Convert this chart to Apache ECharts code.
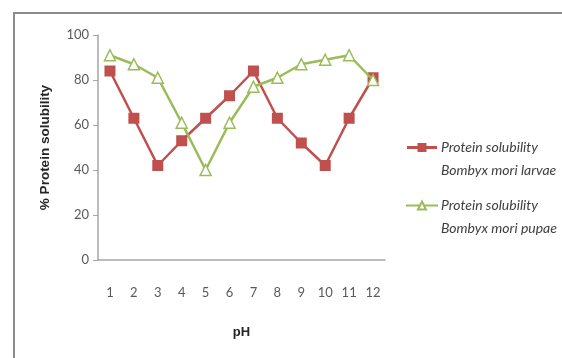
<!DOCTYPE html>
<html><head><meta charset="utf-8">
<script src="https://cdn.jsdelivr.net/npm/echarts@6/dist/echarts.min.js"></script>
<style>html,body{margin:0;padding:0;background:#fff}#c{width:562px;height:358px}</style>
</head><body><div id="c"></div>
<script>
var categories = ['1','2','3','4','5','6','7','8','9','10','11','12'];
var larvae = [84, 63, 42, 53, 63, 73, 84, 63, 52, 42, 63, 81];
var pupae = [91, 87, 81, 61, 40, 61, 77, 81, 87, 89, 91, 80];
var seriesNames = ['Protein solubility\nBombyx mori larvae', 'Protein solubility\nBombyx mori pupae'];
var yTicks = [0, 20, 40, 60, 80, 100];

var chart = echarts.init(document.getElementById('c'));
chart.setOption({
  animation: false,
  graphic: [
    {type: 'polyline', shape: {points: [[14, 358], [14, 13], [562, 13]]}, style: {stroke: '#8c8c8c', lineWidth: 2, fill: null}, z: 0}
  ],
  grid: {left: 98, top: 35, width: 287, height: 225},
  legend: {
    orient: 'vertical', left: 400, top: 108, itemGap: -11, itemWidth: 32, itemHeight: 10,
    formatter: function (name) { return '\n' + name; },
    textStyle: {fontFamily: 'Lato', fontStyle: 'italic', fontSize: 14, color: '#404040', lineHeight: 23, padding: [0,0,0,-2]},
    data: [
      {name: seriesNames[0], icon: 'path://M0,3.6 L10.5,3.6 L10.5,0.5 L19.5,0.5 L19.5,9.5 L10.5,9.5 L10.5,6.4 L0,6.4 Z M19.5,3.6 L30,3.6 L30,6.4 L19.5,6.4 Z M0,0 L0.01,0 Z M0,10 L0.01,10 Z'},
      {name: seriesNames[1]}
    ]
  },
  xAxis: {
    type: 'category', data: categories, boundaryGap: true,
    axisLine: {lineStyle: {color: '#a6a6a6', width: 1.5}},
    axisTick: {show: false},
    axisLabel: {margin: 26, color: '#595959', fontSize: 13, fontFamily: 'Lato'},
    name: 'pH', nameLocation: 'middle', nameGap: 66,
    nameTextStyle: {fontWeight: 'bold', fontSize: 13, color: '#262626', fontFamily: 'Liberation Sans'}
  },
  yAxis: {
    type: 'value', min: 0, max: 100, interval: 20,
    axisLine: {show: true, lineStyle: {color: '#a6a6a6', width: 1.5}},
    axisTick: {show: true, length: 5, lineStyle: {color: '#a6a6a6'}},
    splitLine: {show: false},
    axisLabel: {margin: 9, color: '#595959', fontSize: 13, fontFamily: 'Lato',
      formatter: function(v){ return yTicks.indexOf(v) >= 0 ? String(v) : ''; }},
    name: '% Protein solubility', nameLocation: 'middle', nameGap: 46, nameRotate: 90,
    nameTextStyle: {fontWeight: 'bold', fontSize: 13.5, color: '#262626', fontFamily: 'Liberation Sans'}
  },
  series: [
    {name: seriesNames[0], type: 'line', data: larvae, symbol: 'rect', symbolSize: 11,
      lineStyle: {color: '#C0504D', width: 2.5}, itemStyle: {color: '#C0504D'}, z: 2},
    {name: seriesNames[1], type: 'line', data: pupae, symbol: 'triangle', symbolSize: 11,
      lineStyle: {color: '#9BBB59', width: 2.5}, itemStyle: {color: '#fff', borderColor: '#9BBB59', borderWidth: 1.5}, z: 3}
  ]
});
</script></body></html>
